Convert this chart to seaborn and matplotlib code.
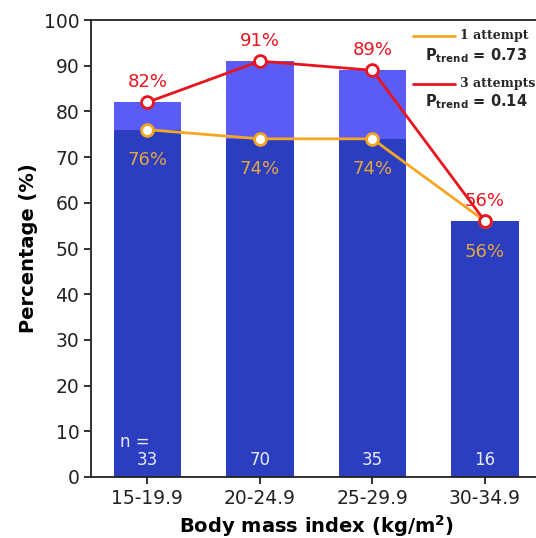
import numpy as np
import pandas as pd
import matplotlib.pyplot as plt
import seaborn as sns
from matplotlib.lines import Line2D

# ── Data ────────────────────────────────────────────────────
bmi_groups = ['15-19.9', '20-24.9', '25-29.9', '30-34.9']
one_attempt = [76, 74, 74, 56]
three_attempts = [82, 91, 89, 56]
n_counts = [33, 70, 35, 16]
p_one = '0.73'
p_three = '0.14'

df = pd.DataFrame({'BMI': bmi_groups, 'one': one_attempt, 'three': three_attempts})

dark_blue = '#2B3EC0'
light_blue = '#5B5CF6'
orange = '#F5A623'
orange_text = '#E3A53F'
red = '#E8141E'

sns.set_style('ticks')
plt.rcParams['font.family'] = ['DejaVu Sans']

fig = plt.figure(figsize=(5.36, 5.38), dpi=100)
ax = fig.add_axes([0.170, 0.1134, 0.8396, 0.8494])

# stacked look: 3-attempt bar behind, 1-attempt bar in front
sns.barplot(data=df, x='BMI', y='three', color=light_blue, saturation=1,
            width=0.6, linewidth=0, ax=ax, zorder=1)
sns.barplot(data=df, x='BMI', y='one', color=dark_blue, saturation=1,
            width=0.6, linewidth=0, ax=ax, zorder=2)

sns.pointplot(data=df, x='BMI', y='one', color=orange, markers='o',
              markersize=8.5, linewidth=2, markerfacecolor='white',
              markeredgewidth=2, ax=ax, zorder=4)
sns.pointplot(data=df, x='BMI', y='three', color=red, markers='o',
              markersize=8.5, linewidth=2, markerfacecolor='white',
              markeredgewidth=2, ax=ax, zorder=5)

# percentage labels
for i, (a, b) in enumerate(zip(one_attempt, three_attempts)):
    ax.annotate(f'{b}%', (i, b), xytext=(0, 8), textcoords='offset points',
                ha='center', va='bottom', color=red, fontsize=13, zorder=6)
    ax.annotate(f'{a}%', (i, a), xytext=(0, -22), textcoords='offset points',
                ha='center', va='center', color=orange_text, fontsize=13, zorder=6)

# sample sizes
for i, n in enumerate(n_counts):
    ax.text(i, 3.7, str(n), ha='center', va='center', color='#E8ECFF', fontsize=12, zorder=6)
ax.text(-0.11, 7.6, 'n =', ha='center', va='center', color='#E8ECFF', fontsize=12, zorder=6)

# legend drawn by hand
ax.add_line(Line2D([0.716, 0.809], [0.965, 0.965], color=orange, lw=2, transform=ax.transAxes))
ax.text(0.82, 0.967, '1 attempt', transform=ax.transAxes, ha='left', va='center',
        fontsize=9, fontweight='bold', family='DejaVu Serif')
ax.text(0.742, 0.923, r'$\mathbf{P_{trend}}$ = ' + p_one, transform=ax.transAxes,
        ha='left', va='center', fontsize=10.5, fontweight='bold')
ax.add_line(Line2D([0.716, 0.809], [0.860, 0.860], color=red, lw=2, transform=ax.transAxes))
ax.text(0.82, 0.862, '3 attempts', transform=ax.transAxes, ha='left', va='center',
        fontsize=9, fontweight='bold', family='DejaVu Serif')
ax.text(0.742, 0.821, r'$\mathbf{P_{trend}}$ = ' + p_three, transform=ax.transAxes,
        ha='left', va='center', fontsize=10.5, fontweight='bold')

ax.set_xlim(-0.5, 3.5)
ax.set_ylim(0, 100)
ax.set_yticks(range(0, 101, 10))
ax.set_xlabel('Body mass index (kg/m$^{\\mathbf{2}}$)', fontsize=14, fontweight='bold', color='black')
ax.set_ylabel('Percentage (%)', fontsize=14, fontweight='bold', color='black')
ax.tick_params(axis='both', labelsize=13.5, width=1.3, length=5, colors='#222222')
for s in ax.spines.values():
    s.set_linewidth(1.3)
    s.set_color('#222222')
ax.spines['right'].set_visible(False)

fig.savefig('out.png', dpi=100)
